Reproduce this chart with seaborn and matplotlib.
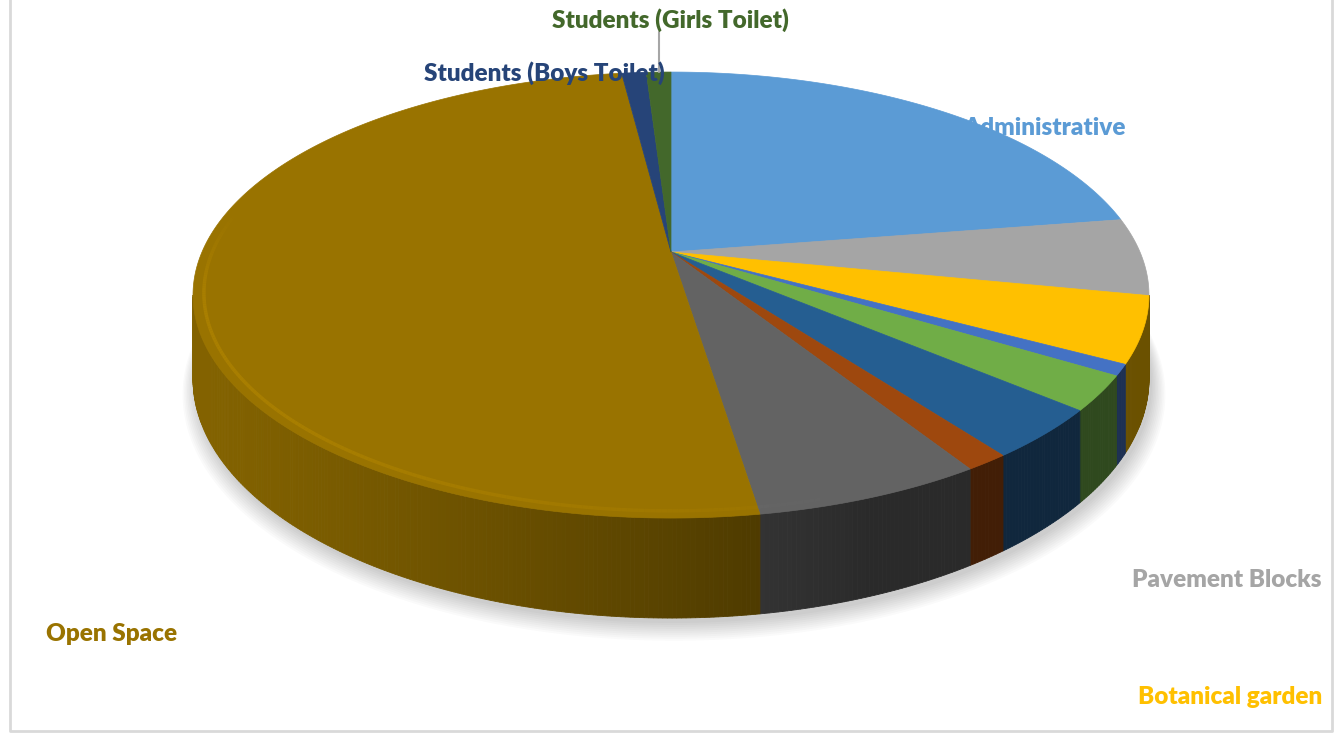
import numpy as np
import matplotlib
matplotlib.use("Agg")
import matplotlib.pyplot as plt
import seaborn as sns
from matplotlib.colors import to_rgb

# slice data, clockwise from 12 o'clock (in %)
categories = ["Administrative", "Pavement Blocks", "Botanical garden", "", "", "", "", "",
              "Open Space", "Students (Boys Toilet)", "Students (Girls Toilet)"]
shares = [22.5, 5.6, 4.75, 0.8, 2.5, 3.6, 1.25, 6.5, 50.4, 1.0, 1.0]
colors = ["#5B9BD5", "#A5A5A5", "#FFC000", "#4472C4", "#70AD47", "#255E91",
          "#9E480E", "#636363", "#997300", "#264478", "#43682B"]

sns.set_theme(style="white")
plt.rcParams['font.family'] = ['Lato', 'DejaVu Sans']

fig = plt.figure(figsize=(13.38, 7.33), dpi=100)
ax = fig.add_axes([0, 0, 1, 1])
ax.set_xlim(0, 1338)
ax.set_ylim(733, 0)
ax.axis('off')

# chart area border
ax.plot([10, 10, 1332, 1332], [-5, 731, 731, -5], color='#D9D9D9', lw=2)

# perspective for the 3d pie
cx, cy = 671, 252
a, b, k, depth = 469, 214.7, 0.193, 80.7


def proj(phi, r=1.0, z=0.0):
    X = r * np.sin(phi)
    Y = r * np.cos(phi)
    w = 1 + k * Y
    return cx + a * X / w, cy - b * Y / w + depth * z / w


def light(phi):
    return max(0.0, -0.9 * np.sin(phi) - 0.35 * np.cos(phi))


def shade(c, f):
    return tuple(min(1, x * f) for x in to_rgb(c))


vals = np.array(shares, dtype=float)
edges = np.concatenate([[0], np.cumsum(vals)]) / vals.sum() * 2 * np.pi

# soft shadow under the pie
tt = np.linspace(0, 2 * np.pi, 300)
for s in range(10):
    sx, sy = proj(tt, r=1.0 + s * 0.003, z=1.0)
    ax.fill(sx + 3, sy + 5 + s * 0.9, color='black', alpha=0.018, lw=0, zorder=1)

# side wall (visible front part only)
vis_lo = np.arccos(-k)
vis_hi = 2 * np.pi - vis_lo
for i, c in enumerate(colors):
    lo = max(edges[i], vis_lo)
    hi = min(edges[i + 1], vis_hi)
    if hi <= lo:
        continue
    n = max(2, int((hi - lo) / 0.008))
    ts = np.linspace(lo, hi, n + 1)
    for j in range(n):
        t0, t1 = ts[j], ts[j + 1]
        x0, y0 = proj(t0)
        x1, y1 = proj(t1)
        x2, y2 = proj(t1, z=1)
        x3, y3 = proj(t0, z=1)
        f = 0.42 + 0.45 * light((t0 + t1) / 2)
        col = shade(c, f)
        ax.fill([x0, x1, x2, x3], [y0, y1, y2, y3], color=col, lw=0.6, ec=col, zorder=2)

# top face
for i, c in enumerate(colors):
    ts = np.linspace(edges[i], edges[i + 1], max(3, int((edges[i + 1] - edges[i]) / 0.005)))
    px, py = proj(ts)
    ax.fill(np.concatenate([[cx], px]), np.concatenate([[cy], py]), color=c, lw=0.5, ec=c, zorder=3)

# bevel highlight along the front rim
for i, c in enumerate(colors):
    lo = max(edges[i], vis_lo - 0.4)
    hi = min(edges[i + 1], vis_hi + 0.4)
    if hi <= lo:
        continue
    ts = np.linspace(lo, hi, max(3, int((hi - lo) / 0.01)))
    for j in range(len(ts) - 1):
        m = (ts[j] + ts[j + 1]) / 2
        taper = min(1.0, (m - (vis_lo - 0.4)) / 0.4, ((vis_hi + 0.4) - m) / 0.4)
        al = light(m) * taper
        if al <= 0.02:
            continue
        hx, hy = proj(ts[j:j + 2], r=0.978)
        ax.plot(hx, hy, color=shade(c, 1.18), lw=2.5, alpha=0.6 * al, zorder=4,
                solid_capstyle='butt')

# labels
font = dict(fontsize=17.5, fontweight='heavy', va='center', zorder=6)
gx, gy = proj((edges[-2] + edges[-1]) / 2)
ax.plot([gx, gx], [32, gy], color='#A6A6A6', lw=1.5, zorder=5)
ax.text(670, 20, categories[10], color=colors[10], ha='center', **font)
ax.text(665, 73, categories[9], color=colors[9], ha='right', **font)
ax.text(1126, 128, categories[0], color=colors[0], ha='right', **font)
ax.text(1322, 580, categories[1], color=colors[1], ha='right', **font)
ax.text(1322, 697, categories[2], color=colors[2], ha='right', **font)
ax.text(46, 634, categories[8], color=colors[8], ha='left', **font)

fig.savefig("out.png", dpi=100)
